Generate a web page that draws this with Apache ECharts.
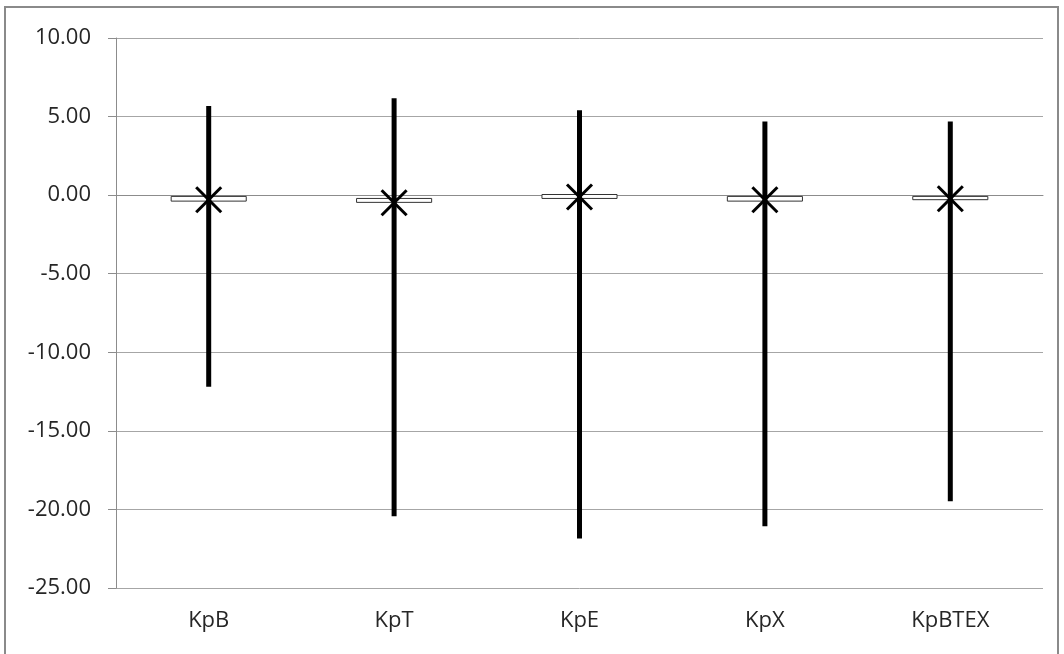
<!DOCTYPE html>
<html>
<head>
<meta charset="utf-8">
<script src="https://cdn.jsdelivr.net/npm/echarts@6/dist/echarts.min.js"></script>
<style>
  html, body { margin: 0; padding: 0; background: #ffffff; }
  #chart { width: 1064px; height: 654px; }
</style>
</head>
<body>
<div id="chart"></div>
<script>
// Partition coefficients: range (high/low), open-close box and mean marker per compound group
const categories = ['KpB', 'KpT', 'KpE', 'KpX', 'KpBTEX'];
const highs      = [5.68, 6.17, 5.41, 4.68, 4.68];
const lows       = [-12.20, -20.43, -21.85, -21.07, -19.48];
const boxTops    = [-0.08, -0.21, 0.04, -0.08, -0.08];
const boxBottoms = [-0.38, -0.46, -0.21, -0.38, -0.29];
const means      = [-0.29, -0.48, -0.12, -0.29, -0.23];
const yTicks     = { min: -25, max: 10, step: 5 };

const rows = categories.map((c, i) => [i, boxTops[i], boxBottoms[i], lows[i], highs[i], means[i]]);

function renderStock(params, api) {
  const idx = api.value(0);
  const band = api.size([1, 0])[0];
  const boxW = band * 0.405;
  const pTop = api.coord([idx, api.value(1)]);
  const pBot = api.coord([idx, api.value(2)]);
  const pLow = api.coord([idx, api.value(3)]);
  const pHigh = api.coord([idx, api.value(4)]);
  const pMean = api.coord([idx, api.value(5)]);
  const x = pTop[0];
  const r = 12.5;
  return {
    type: 'group',
    children: [
      {
        type: 'rect',
        shape: { x: x - boxW / 2, y: Math.min(pTop[1], pBot[1]), width: boxW, height: Math.abs(pBot[1] - pTop[1]) },
        style: { fill: '#ffffff', stroke: '#333333', lineWidth: 1 }
      },
      {
        type: 'line',
        shape: { x1: x, y1: pHigh[1], x2: x, y2: pLow[1] },
        style: { stroke: '#000000', lineWidth: 5 }
      },
      {
        type: 'line',
        shape: { x1: pMean[0] - r, y1: pMean[1] - r, x2: pMean[0] + r, y2: pMean[1] + r },
        style: { stroke: '#000000', lineWidth: 3 }
      },
      {
        type: 'line',
        shape: { x1: pMean[0] - r, y1: pMean[1] + r, x2: pMean[0] + r, y2: pMean[1] - r },
        style: { stroke: '#000000', lineWidth: 3 }
      }
    ]
  };
}

const chart = echarts.init(document.getElementById('chart'), null, { renderer: 'canvas' });
chart.setOption({
  animation: false,
  backgroundColor: '#ffffff',
  graphic: [{
    type: 'rect',
    shape: { x: 5, y: 7, width: 1053, height: 660 },
    style: { fill: 'none', stroke: '#8a8a8a', lineWidth: 2 },
    silent: true
  }],
  grid: { left: 116, top: 38, right: 21, bottom: 66 },
  xAxis: {
    type: 'category',
    data: categories,
    axisLine: { lineStyle: { color: '#8c8c8c', width: 1 } },
    axisTick: { show: false },
    axisLabel: { color: '#262626', fontSize: 22, fontFamily: 'Open Sans', margin: 22 },
    splitLine: { show: false }
  },
  yAxis: {
    type: 'value',
    min: yTicks.min,
    max: yTicks.max,
    interval: yTicks.step,
    axisLine: { show: true, lineStyle: { color: '#8c8c8c', width: 1 } },
    axisTick: { show: true, length: 8, lineStyle: { color: '#8c8c8c' } },
    axisLabel: {
      color: '#262626', fontSize: 22, fontFamily: 'Open Sans', margin: 25,
      formatter: v => v.toFixed(2)
    },
    splitLine: { lineStyle: { color: '#a6a6a6', width: 1 } }
  },
  series: [{
    type: 'custom',
    renderItem: renderStock,
    data: rows,
    encode: { x: 0, y: [1, 2, 3, 4, 5] }
  }]
});
</script>
</body>
</html>
